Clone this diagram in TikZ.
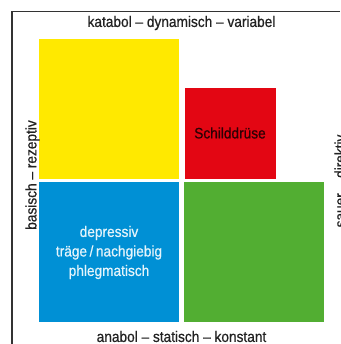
\documentclass[tikz,border=0pt]{standalone}
\usepackage{fontspec}
\setmainfont{Liberation Sans}[FakeStretch=0.9,FakeBold=0.6]
\definecolor{cyel}{HTML}{FFE900}
\definecolor{cred}{HTML}{E30613}
\definecolor{cblue}{HTML}{0090D5}
\definecolor{cgreen}{HTML}{52AE32}
\definecolor{cframe}{HTML}{333333}
\definecolor{ctext}{HTML}{222222}
\begin{document}
\begin{tikzpicture}[x=1pt,y=-1pt,
  quad/.style={inner sep=0pt,outer sep=0pt},
  lbl/.style={font=\fontsize{15.2}{17}\selectfont,text=ctext,inner sep=0pt},
  boxtxt/.style={font=\fontsize{15.2}{19.5}\selectfont,align=center,inner sep=0pt}]
\useasboundingbox (0,0) rectangle (340,344);
\fill[white] (0,0) rectangle (340,344);
\draw[cframe,line width=1.2pt] (340,11.5) -- (12,11.5) -- (12,344);
\fill[cyel] (39,39) rectangle (179,179);
\fill[cred] (185,88) rectangle (276,179);
\fill[cblue] (39,182) rectangle (179,322);
\fill[cgreen] (184,182) rectangle (324,322);
\node[lbl] (top) at (181.5,23) {katabol – dynamisch – variabel};
\node[lbl] (bot) at (181.5,336.5) {anabol – statisch – konstant};
\node[lbl,rotate=90] (left) at (32.5,175) {basisch – rezeptiv};
\node[lbl,rotate=90] (right) at (340,181) {sauer – direktiv};
\node[boxtxt,text=white!90!cblue] (blue) at (109,252.5) {depressiv\\träge\,/\,nachgiebig\\phlegmatisch};
\node[boxtxt,text=black!80!cred] (red) at (230,133) {Schilddrüse};
\end{tikzpicture}
\end{document}
